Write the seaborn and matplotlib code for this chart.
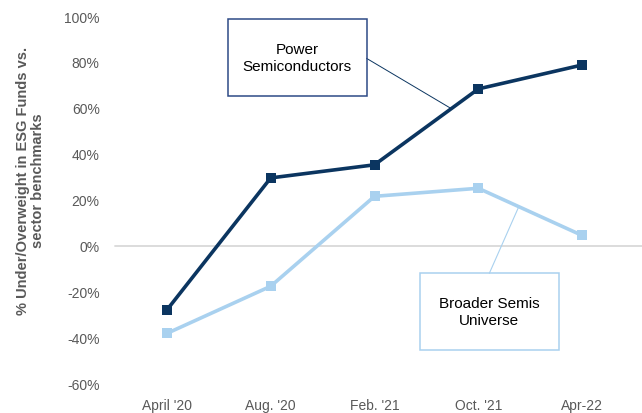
import pandas as pd
import numpy as np
import matplotlib.pyplot as plt
import seaborn as sns
from matplotlib.patches import Rectangle

# data
dates = ["April '20", "Aug. '20", "Feb. '21", "Oct. '21", "Apr-22"]
power = [-27.8, 29.6, 35.3, 68.3, 78.7]
broader = [-38.0, -17.5, 21.6, 25.1, 4.6]
yticks = [-60, -40, -20, 0, 20, 40, 60, 80, 100]

df = pd.DataFrame({
    "date": dates * 2,
    "value": power + broader,
    "series": ["Power Semiconductors"] * 5 + ["Broader Semis Universe"] * 5,
})

dark = "#0B3560"
light = "#A9D1EF"

sns.set_style("white")
plt.rcParams['font.family'] = ['Liberation Sans', 'DejaVu Sans']

fig = plt.figure(figsize=(6.42, 4.14), dpi=100)
ax = fig.add_axes([115/642, 1-385/414, (634-115)/642, (385-17)/414])

ax.axhline(0, xmin=0, xmax=1.015, color="#D9D9D9", lw=1.3, clip_on=False, zorder=1)

sns.lineplot(data=df, x="date", y="value", hue="series", sort=False,
             palette={"Power Semiconductors": dark, "Broader Semis Universe": light},
             hue_order=["Broader Semis Universe", "Power Semiconductors"],
             marker="s", markersize=7, markeredgewidth=0, lw=2.6,
             legend=False, ax=ax, zorder=3)

ax.set_xlim(-0.5, 4.5)
ax.set_ylim(-60, 100)
ax.set_yticks(yticks)
ax.set_yticklabels([f"{v}%" for v in yticks])
ax.tick_params(axis="both", length=0, labelsize=10, labelcolor="#595959")
ax.tick_params(axis="y", pad=11)
ax.tick_params(axis="x", pad=10)
ax.set_xlabel("")
ax.set_ylabel("% Under/Overweight in ESG Funds vs.\nsector benchmarks",
              fontsize=10.5, fontweight="bold", color="#595959", linespacing=1.1)
ax.yaxis.set_label_coords(-0.135, 0.555)
for s in ax.spines.values():
    s.set_visible(False)

# call-out boxes
ax.add_patch(Rectangle((0.587, 65.3), 1.923-0.587, 98.7-65.3, fill=False,
                       edgecolor="#2E4A86", lw=1.1, clip_on=False, zorder=4))
ax.text(1.255, 82, "Power\nSemiconductors", ha="center", va="center",
        fontsize=11, linespacing=1.25, color="black")
ax.plot([1.923, 2.74], [81.6, 35.3 + 0.74*(68.3-35.3)], color=dark, lw=0.7, zorder=2)

ax.add_patch(Rectangle((2.435, -45.1), 3.775-2.435, 33.2, fill=False,
                       edgecolor=light, lw=1.1, clip_on=False, zorder=4))
ax.text(3.105, -28.5, "Broader Semis\nUniverse", ha="center", va="center",
        fontsize=11, linespacing=1.25, color="black")
ax.plot([3.106, 3.39], [-11.9, 25.1 - 0.39*(25.1-4.6)], color=light, lw=0.8, zorder=2)

fig.savefig("out.png", dpi=100)
